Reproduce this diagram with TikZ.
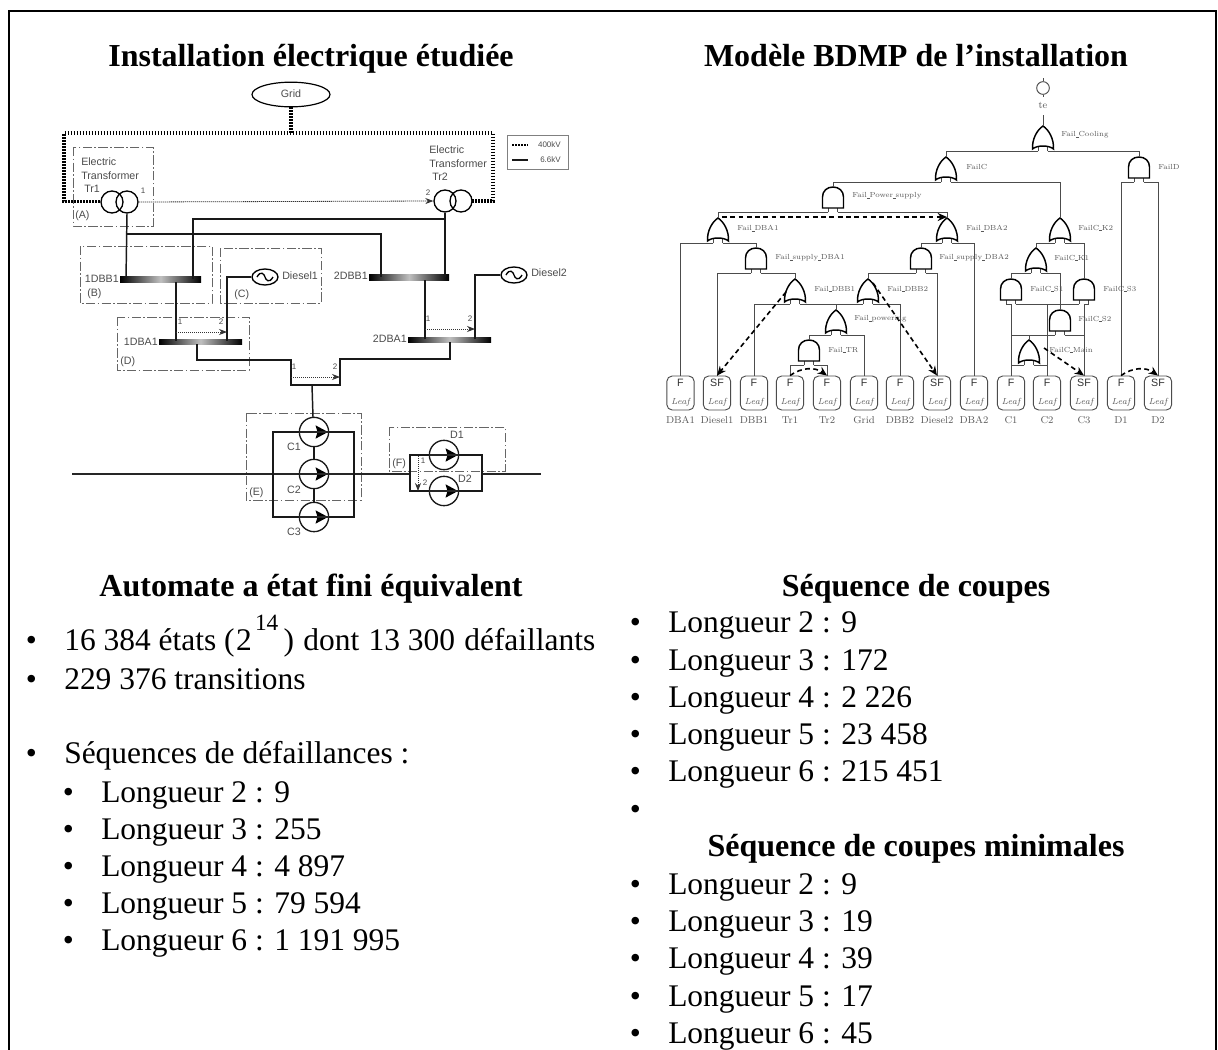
\documentclass[tikz,border=0pt]{standalone}
\usepackage{fontspec}
\usetikzlibrary{calc,arrows.meta,shapes.geometric,shapes.misc}
\newfontfamily\tmsf{Liberation Serif}
\newfontfamily\arlf{Liberation Sans}
\definecolor{wiregray}{gray}{0.3}
\definecolor{boxgray}{gray}{0.4}
\definecolor{labgray}{gray}{0.35}
\newcommand\us{\kern-0.15pt\rule[-0.45pt]{2.2pt}{0.3pt}\kern-0.15pt}
\tikzset{
  x=0.75pt,y=-0.75pt,
  frameline/.style={draw=black,line width=1.5pt},
  heading/.style={font=\tmsf\bfseries\fontsize{24}{26}\selectfont,anchor=base,inner sep=0pt},
  bodytext/.style={font=\tmsf\fontsize{23.6}{26}\selectfont,anchor=base west,inner sep=0pt},
  gatestyle/.style={draw=black,line width=1.1pt,fill=white},
  wire/.style={draw=wiregray,line width=0.7pt},
  dasharrow/.style={draw=black,line width=1.2pt,dash pattern=on 3.6pt off 2.6pt,-{Stealth[length=7pt,width=6pt]}},
  gatelabel/.style={font=\fontsize{5.5}{7}\selectfont,text=labgray,anchor=west,inner sep=0pt},
  leafbox/.style={draw=wiregray,line width=0.7pt,rounded corners=4pt,minimum width=20.5pt,minimum height=25.5pt,inner sep=0pt},
  leafname/.style={font=\fontsize{7.5}{8}\selectfont,text=labgray,inner sep=0pt},
  leaftype/.style={font=\arlf\fontsize{8}{9}\selectfont,text=black!80,inner sep=0pt},
  leafital/.style={font=\itshape\fontsize{6.6}{7}\selectfont,text=labgray,inner sep=0pt},
  hv/.style={draw=black!90,line width=1.1pt},
  hvthin/.style={draw=black!85,line width=0.9pt},
  bigdots/.style={draw=black,line width=2.4pt,dash pattern=on 1.2pt off 1.05pt},
  smalldots/.style={draw=black!80,line width=0.6pt,dash pattern=on 0.9pt off 0.6pt,-{Stealth[length=6pt,width=4.5pt]}},
  zone/.style={draw=boxgray,line width=0.7pt,dash pattern=on 7pt off 1.8pt on 1.2pt off 1.8pt},
  eltext/.style={font=\arlf\fontsize{8}{9}\selectfont,text=black!70,inner sep=0pt},
  tinytext/.style={font=\arlf\fontsize{6}{7}\selectfont,text=black!70,inner sep=0pt},
  circ/.style={draw=black!90,line width=1pt,fill=white,circle,minimum size=22pt,inner sep=0pt},
  trafo/.style={draw=black,line width=1pt,circle,minimum size=16.5pt,inner sep=0pt},
  dieselnode/.style={draw=black,line width=1pt,ellipse,minimum width=19.5pt,minimum height=12pt,inner sep=0pt,fill=white}
}
\newcommand\AndG[3]{%
  \coordinate (#1) at (#2,#3);
  \coordinate (#1-l) at (#2-4.7,#3+25);
  \coordinate (#1-r) at (#2+4.7,#3+25);
  \begin{scope}[shift={(#2,#3)}]
    \draw[wire] (-4.7,21) -- (-4.7,25) (4.7,21) -- (4.7,25);
    \draw[gatestyle] (-10.5,21) -- (-10.5,10) .. controls (-10.5,4) and (-6,0) .. (0,0) .. controls (6,0) and (10.5,4) .. (10.5,10) -- (10.5,21) -- cycle;
  \end{scope}}
\newcommand\OrG[3]{%
  \coordinate (#1) at (#2,#3);
  \coordinate (#1-l) at (#2-4.7,#3+25);
  \coordinate (#1-r) at (#2+4.7,#3+25);
  \begin{scope}[shift={(#2,#3)}]
    \draw[wire] (-4.7,20) -- (-4.7,25) (4.7,20) -- (4.7,25);
    \draw[gatestyle] (-10.5,23) .. controls (-11,13) and (-6,4) .. (0,0) .. controls (6,4) and (11,13) .. (10.5,23) .. controls (6,19) and (-6,19) .. (-10.5,23) -- cycle;
  \end{scope}}
\newcommand\LeafN[4]{%
  \node[leafbox] (#1) at (#2,393) {};
  \node[leaftype] (#1-t) at (#2,383) {#3};
  \node[leafital] (#1-i) at (#2,402) {Leaf};
  \node[leafname] (#1-n) at (#2,420) {#4};}
\newcommand\Pump[3]{%
  \node[circ] (#1) at (#2,#3) {};
  \fill[black] (#2+1.5,#3-6.7) -- (#2+14,#3) -- (#2+1.5,#3+6.7) -- (#2+3.5,#3) -- cycle;}
\newcommand\Bus[5]{%
  \shade[left color=black,right color=black,middle color=black!25] (#2,#3) rectangle (#4,#5);
  \coordinate (#1) at (#2,#3);}
\newcommand\Bul[3]{\node[bodytext] (#1) at (#2,#3) {•};}
\newcommand\Wave[2]{\draw[black,line width=1pt] (#1-8,#2) .. controls (#1-4,#2-7) and (#1-1,#2-3) .. (#1,#2) .. controls (#1+1,#2+3) and (#1+4,#2+7) .. (#1+8,#2);}
\begin{document}
\begin{tikzpicture}
\useasboundingbox (0,0) rectangle (1218,1050);
\fill[white] (0,0) rectangle (1218,1050);
\draw[frameline] (9,1050) -- (9,11) -- (1216,11) -- (1216,1050);

% headings
\node[heading] (h1) at (311,66) {Installation électrique étudiée};
\node[heading] (h2) at (916,66) {Modèle BDMP de l’installation};
\node[heading] (h3) at (311,596) {Automate a état fini équivalent};
\node[heading] (h4) at (916,596) {Séquence de coupes};
\node[heading] (h5) at (916,856) {Séquence de coupes minimales};

% left list
\Bul{b1}{25.5}{650}\node[bodytext] (t1) at (64,650) {16 384 états (\kern1pt 2\kern2.5pt\raisebox{14.5pt}{\fontsize{17.5}{18}\selectfont 14}\kern4pt) \kern1pt dont \kern1pt 13 300 \kern1pt défaillants};
\Bul{b2}{25.5}{689}\node[bodytext] (t2) at (64,689) {229 376 transitions};
\Bul{b3}{25.5}{763}\node[bodytext] (t3) at (64,763) {Séquences de défaillances :};
\Bul{b4}{62.5}{802}\node[bodytext] (t4) at (101,802) {Longueur 2 : 9};
\Bul{b5}{62.5}{839}\node[bodytext] (t5) at (101,839) {Longueur 3 : 255};
\Bul{b6}{62.5}{876}\node[bodytext] (t6) at (101,876) {Longueur 4 : 4 897};
\Bul{b7}{62.5}{913}\node[bodytext] (t7) at (101,913) {Longueur 5 : 79 594};
\Bul{b8}{62.5}{950}\node[bodytext] (t8) at (101,950) {Longueur 6 : 1 191 995};
% right list
\Bul{r1}{629.5}{632}\node[bodytext] (u1) at (668,632) {Longueur 2 : 9};
\Bul{r2}{629.5}{670}\node[bodytext] (u2) at (668,670) {Longueur 3 : 172};
\Bul{r3}{629.5}{707}\node[bodytext] (u3) at (668,707) {Longueur 4 : 2 226};
\Bul{r4}{629.5}{744}\node[bodytext] (u4) at (668,744) {Longueur 5 : 23 458};
\Bul{r5}{629.5}{781}\node[bodytext] (u5) at (668,781) {Longueur 6 : 215 451};
\Bul{r6}{629.5}{819}
\Bul{r7}{629.5}{894}\node[bodytext] (u7) at (668,894) {Longueur 2 : 9};
\Bul{r8}{629.5}{931}\node[bodytext] (u8) at (668,931) {Longueur 3 : 19};
\Bul{r9}{629.5}{968}\node[bodytext] (u9) at (668,968) {Longueur 4 : 39};
\Bul{r10}{629.5}{1006}\node[bodytext] (u10) at (668,1006) {Longueur 5 : 17};
\Bul{r11}{629.5}{1043}\node[bodytext] (u11) at (668,1043) {Longueur 6 : 45};

% ===== electrical diagram =====
% zones
\draw[zone] (73,147) rectangle (153,226);
\draw[zone] (80,246) rectangle (212,303);
\draw[zone] (220,248) rectangle (321,303);
\draw[zone] (117,317) rectangle (249,370);
\draw[zone] (246,413) rectangle (361,500);
\draw[zone] (389,427) rectangle (505,471);
% 400kV
\node[draw=black,line width=0.9pt,ellipse,minimum width=58.5pt,minimum height=18.5pt,inner sep=0pt] (grid) at (291,94.5) {};
\node[eltext] (gridt) at (291,94) {Grid};
\coordinate (tr1in) at (100,201.5);
\coordinate (tr2in) at (472,201);
\coordinate (gt) at (291,133);
\draw[bigdots] (grid.south) -- (gt);
\draw[bigdots] (tr1in) -- (64,201.5) -- (64,133) -- (493,133) -- (493,201) -- (tr2in);
% transformers
\node[trafo] (t1a) at (112,202) {};
\node[trafo] (t1b) at (127,202) {};
\node[trafo] (t2a) at (445,201) {};
\node[trafo] (t2b) at (461,201) {};
\draw[smalldots] (t1b.east) -- (t2a.west);
\node[tinytext] (n1) at (143,191) {1};
\node[tinytext] (n2) at (428,193) {2};
\foreach \nm/\tx/\yy in {e1/Electric/162,e2/Transformer/176}{\node[eltext,anchor=west] (\nm) at (81,\yy) {\tx};}
\node[eltext,anchor=west] (e3) at (84,189) {Tr1};
\foreach \nm/\tx/\yy in {f1/Electric/150,f2/Transformer/164}{\node[eltext,anchor=west] (\nm) at (429,\yy) {\tx};}
\node[eltext,anchor=west] (f3) at (432,177) {Tr2};
\node[eltext,anchor=west] (la) at (75,216) {(A)};
\node[eltext,anchor=west] (lb) at (87,294) {(B)};
\node[eltext,anchor=west] (lc) at (234,295) {(C)};
\node[eltext,anchor=west] (ld) at (120,362) {(D)};
\node[eltext,anchor=west] (le) at (249,493) {(E)};
\node[eltext,anchor=west] (lf) at (392,464) {(F)};
% legend
\node[draw=black!50,line width=0.7pt,minimum width=45.75pt,minimum height=25.5pt,inner sep=0pt] (legend) at (537.5,152) {};
\coordinate (lg1a) at (512,145); \coordinate (lg1b) at (528,145);
\coordinate (lg2a) at (512,160); \coordinate (lg2b) at (528,160);
\draw[bigdots,line width=1.8pt] (lg1a) -- (lg1b);
\draw[hv] (lg2a) -- (lg2b);
\node[tinytext,anchor=east] (lk1) at (561,145) {400kV};
\node[tinytext,anchor=east] (lk2) at (561,160) {6.6kV};
% busbars
\Bus{b1dbb}{120}{276}{201}{282}
\Bus{b2dbb}{369}{274}{449}{280}
\Bus{b1dba}{159}{339}{242}{344}
\Bus{b2dba}{408}{337}{491}{342}
\node[eltext,anchor=east] (tb1) at (119,279) {1DBB1};
\node[eltext,anchor=east] (tb2) at (368,276) {2DBB1};
\node[eltext,anchor=east] (tb3) at (158,342) {1DBA1};
\node[eltext,anchor=east] (tb4) at (407,339) {2DBA1};
% 6.6 kV wires
\coordinate (w1) at (126,279); \coordinate (w2) at (381,277);
\coordinate (w3) at (193,279); \coordinate (w4) at (445,277);
\draw[hv] (t1b.south) -- (w1);
\draw[hv] (126,234) -| (w2);
\draw[hv] (w3) |- (445,219);
\draw[hv] (t2a.south) -- (w4);
\coordinate (a1) at (176,282); \coordinate (a2) at (176,341);
\draw[hv] (a1) -- (a2);
\coordinate (a3) at (425,280); \coordinate (a4) at (425,339);
\draw[hv] (a3) -- (a4);
\node[dieselnode] (d1) at (265,277) {};
\node[dieselnode] (d2) at (514,275) {};
\Wave{265}{277}\Wave{514}{275}
\node[eltext,anchor=west] (d1t) at (282,276) {Diesel1};
\node[eltext,anchor=west] (d2t) at (531,273) {Diesel2};
\coordinate (a5) at (227,341); \coordinate (a6) at (475,339);
\draw[hv] (d1.west) -| (a5);
\draw[hv] (d2.west) -| (a6);
\coordinate (sa) at (197,344); \coordinate (sb) at (450,342);
\coordinate (sj) at (312,385); \coordinate (pumpin) at (313,417);
\draw[hv] (sa) -- (197,360) -- (291,360) -- (291,385) -- (340,385) -- (340,359) -- (450,359) -- (sb);
\draw[hv] (sj) -- (pumpin);
% transfer arrows
\coordinate (q1) at (176,332); \coordinate (q2) at (227,332);
\coordinate (q3) at (425,329); \coordinate (q4) at (475,329);
\coordinate (q5) at (291,377); \coordinate (q6) at (340,377);
\draw[smalldots] (q1) -- (q2);
\draw[smalldots] (q3) -- (q4);
\draw[smalldots] (q5) -- (q6);
\node[tinytext] (m1) at (180,322) {1};\node[tinytext] (m2) at (221,322) {2};
\node[tinytext] (m3) at (428,319) {1};\node[tinytext] (m4) at (470,319) {2};
\node[tinytext] (m5) at (294,367) {1};\node[tinytext] (m6) at (335,367) {2};
% main line
\coordinate (ml) at (72,474); \coordinate (mr) at (541,474);
\coordinate (ra) at (273,474); \coordinate (rb) at (354,474);
\coordinate (rc) at (410,474); \coordinate (rd) at (482,474);
\draw[hvthin] (ml) -- (rb) -- (rc);
\draw[hvthin] (rd) -- (mr);
% C pumps
\draw[hv] (273,432) rectangle (354,517);
\Pump{c1}{314}{432}
\Pump{c2}{314}{474}
\Pump{c3}{314}{517}
\draw[hv] (c1.south) -- (c2.north);
\draw[hv] (c2.south) -- (c3.north);
\draw[hvthin] (c1.west) -- (c1.east);
\draw[hvthin] (c2.west) -- (c2.east);
\draw[hvthin] (c3.west) -- (c3.east);
\node[eltext] (c1t) at (294,447) {C1};
\node[eltext] (c2t) at (294,490) {C2};
\node[eltext] (c3t) at (294,532) {C3};
% D pumps
\draw[hv] (410,455) rectangle (482,491);
\Pump{p1}{444}{455}
\Pump{p2}{444}{491}
\draw[hvthin] (p1.west) -- (p1.east);
\draw[hvthin] (p2.west) -- (p2.east);
\node[eltext] (p1t) at (457,435) {D1};
\node[eltext] (p2t) at (465,479) {D2};
\coordinate (q7) at (418,456); \coordinate (q8) at (418,491);
\draw[smalldots] (q7) -- (q8);
\node[tinytext] (m7) at (423,461) {1};\node[tinytext] (m8) at (425,483) {2};

% ===== BDMP =====
\node[draw=wiregray,line width=0.7pt,circle,minimum size=9.5pt,inner sep=0pt] (top) at (1043,88) {};
\coordinate (tstub) at (1043,78);
\coordinate (tlow) at (1043,97);
\coordinate (tout) at (1043,115);
\draw[wire] (tstub) -- (top);
\draw[wire] (top) -- (tlow);
\node[leafname] (tet) at (1043,105) {te};
\AndG{FP}{833}{187}
\OrG{FCool}{1043}{126}
\OrG{FC}{946}{157}
\AndG{FD}{1139}{157}
\OrG{FK2}{1060}{218}
\OrG{FDA1}{718}{218}
\OrG{FDA2}{947}{218}
\AndG{FSA1}{756}{248}
\AndG{FSA2}{921}{248}
\OrG{FK1}{1036}{248}
\OrG{FDB1}{795}{279}
\OrG{FDB2}{868}{279}
\AndG{FS1}{1011}{279}
\AndG{FS3}{1084}{279}
\OrG{FPW}{836}{310}
\AndG{FS2}{1060}{310}
\AndG{FTR}{809}{340}
\OrG{FM}{1029}{340}
\LeafN{DBA1}{680.5}{F}{DBA1}
\LeafN{Diesel1}{717}{SF}{Diesel1}
\LeafN{DBB1}{754}{F}{DBB1}
\LeafN{Tr1}{790}{F}{Tr1}
\LeafN{Tr2}{827}{F}{Tr2}
\LeafN{GridL}{864}{F}{Grid}
\LeafN{DBB2}{900}{F}{DBB2}
\LeafN{Diesel2}{937}{SF}{Diesel2}
\LeafN{DBA2}{974}{F}{DBA2}
\LeafN{C1}{1011}{F}{C1}
\LeafN{C2}{1047}{F}{C2}
\LeafN{C3}{1084}{SF}{C3}
\LeafN{D1}{1121}{F}{D1}
\LeafN{D2}{1158}{SF}{D2}
% wires
\draw[wire] (tout) -- (FCool);
\draw[wire] (FCool-l) -| (FC);
\draw[wire] (FCool-r) -| (FD);
\draw[wire] (FC-l) -| (FP);
\draw[wire] (FC-r) -| (FK2);
\draw[wire] (FD-l) -| (D1.north);
\draw[wire] (FD-r) -| (D2.north);
\draw[wire] (FP-l) -| (FDA1);
\draw[wire] (FP-r) -| (FDA2);
\draw[wire] (FDA1-l) -| (DBA1.north);
\draw[wire] (FDA1-r) -| (FSA1);
\draw[wire] (FDA2-l) -| (FSA2);
\draw[wire] (FDA2-r) -| (DBA2.north);
\draw[wire] (FSA1-l) -| (Diesel1.north);
\draw[wire] (FSA1-r) -| (FDB1);
\draw[wire] (FSA2-l) -| (FDB2);
\draw[wire] (FSA2-r) -| (Diesel2.north);
\draw[wire] (FDB1-l) -| (DBB1.north);
\draw[wire] (FDB1-r) -- (FDB2-l);
\draw[wire] (FDB2-r) -| (DBB2.north);
\draw[wire] (FPW) -- (836,304);
\draw[wire] (FPW-l) -| (FTR);
\draw[wire] (FPW-r) -| (GridL.north);
\draw[wire] (FTR-l) -| (Tr1.north);
\draw[wire] (FTR-r) -| (Tr2.north);
\draw[wire] (FK2-l) -| (FK1);
\draw[wire] (FK2-r) -| (FS3);
\draw[wire] (FK1-l) -| (FS1);
\draw[wire] (FK1-r) -| (FS2);
\draw[wire] (FS1-l) -| (C1.north);
\draw[wire] (FS1-r) -- (FS3-l);
\draw[wire] (1047,304) -- (C2.north);
\draw[wire] (FS3-r) -| (C3.north);
\draw[wire] (FS2-l) -| (1011,335);
\draw[wire] (FS2-r) -| (1084,335);
\draw[wire] (FM) -- (1029,335);
\draw[wire] (FM-l) -| (1011,365);
\draw[wire] (FM-r) -| (1047,365);
% triggers
\draw[dasharrow] ($(FDA1)+(4,-1)$) -- ($(FDA2)+(0,-1)$);
\draw[dasharrow] ($(FDB1)+(-9,13)$) -- (Diesel1.north);
\draw[dasharrow] ($(FDB2)+(5,4)$) -- (Diesel2.north);
\draw[dasharrow] ($(FM)+(15,8)$) -- (C3.north);
\draw[dasharrow] (Tr1.north) .. controls (802,367) and (815,367) .. (Tr2.north);
\draw[dasharrow] (D1.north) .. controls (1133,367) and (1146,367) .. (D2.north);
% gate labels
\foreach \nm/\tx/\xx/\yy in {
 g1/Fail\us Cooling/1061/135, g2/FailC/966/167, g3/FailD/1158/167,
 g4/Fail\us Power\us supply/852/196, g5/Fail\us DBA1/737/228, g6/Fail\us DBA2/966/228,
 g7/FailC\us K2/1078/228, g8/Fail\us supply\us DBA1/775/258, g9/Fail\us supply\us DBA2/939/258,
 g10/FailC\us K1/1054/258, g11/Fail\us DBB1/814/289, g12/Fail\us DBB2/887/289,
 g13/FailC\us S1/1030/289, g14/FailC\us S3/1103/289, g15/Fail\us powering/854/319,
 g16/FailC\us S2/1078/319, g17/Fail\us TR/828/350, g18/FailC\us Main/1049/350}
 {\node[gatelabel] (\nm) at (\xx,\yy) {\tx};}
\end{tikzpicture}
\end{document}
